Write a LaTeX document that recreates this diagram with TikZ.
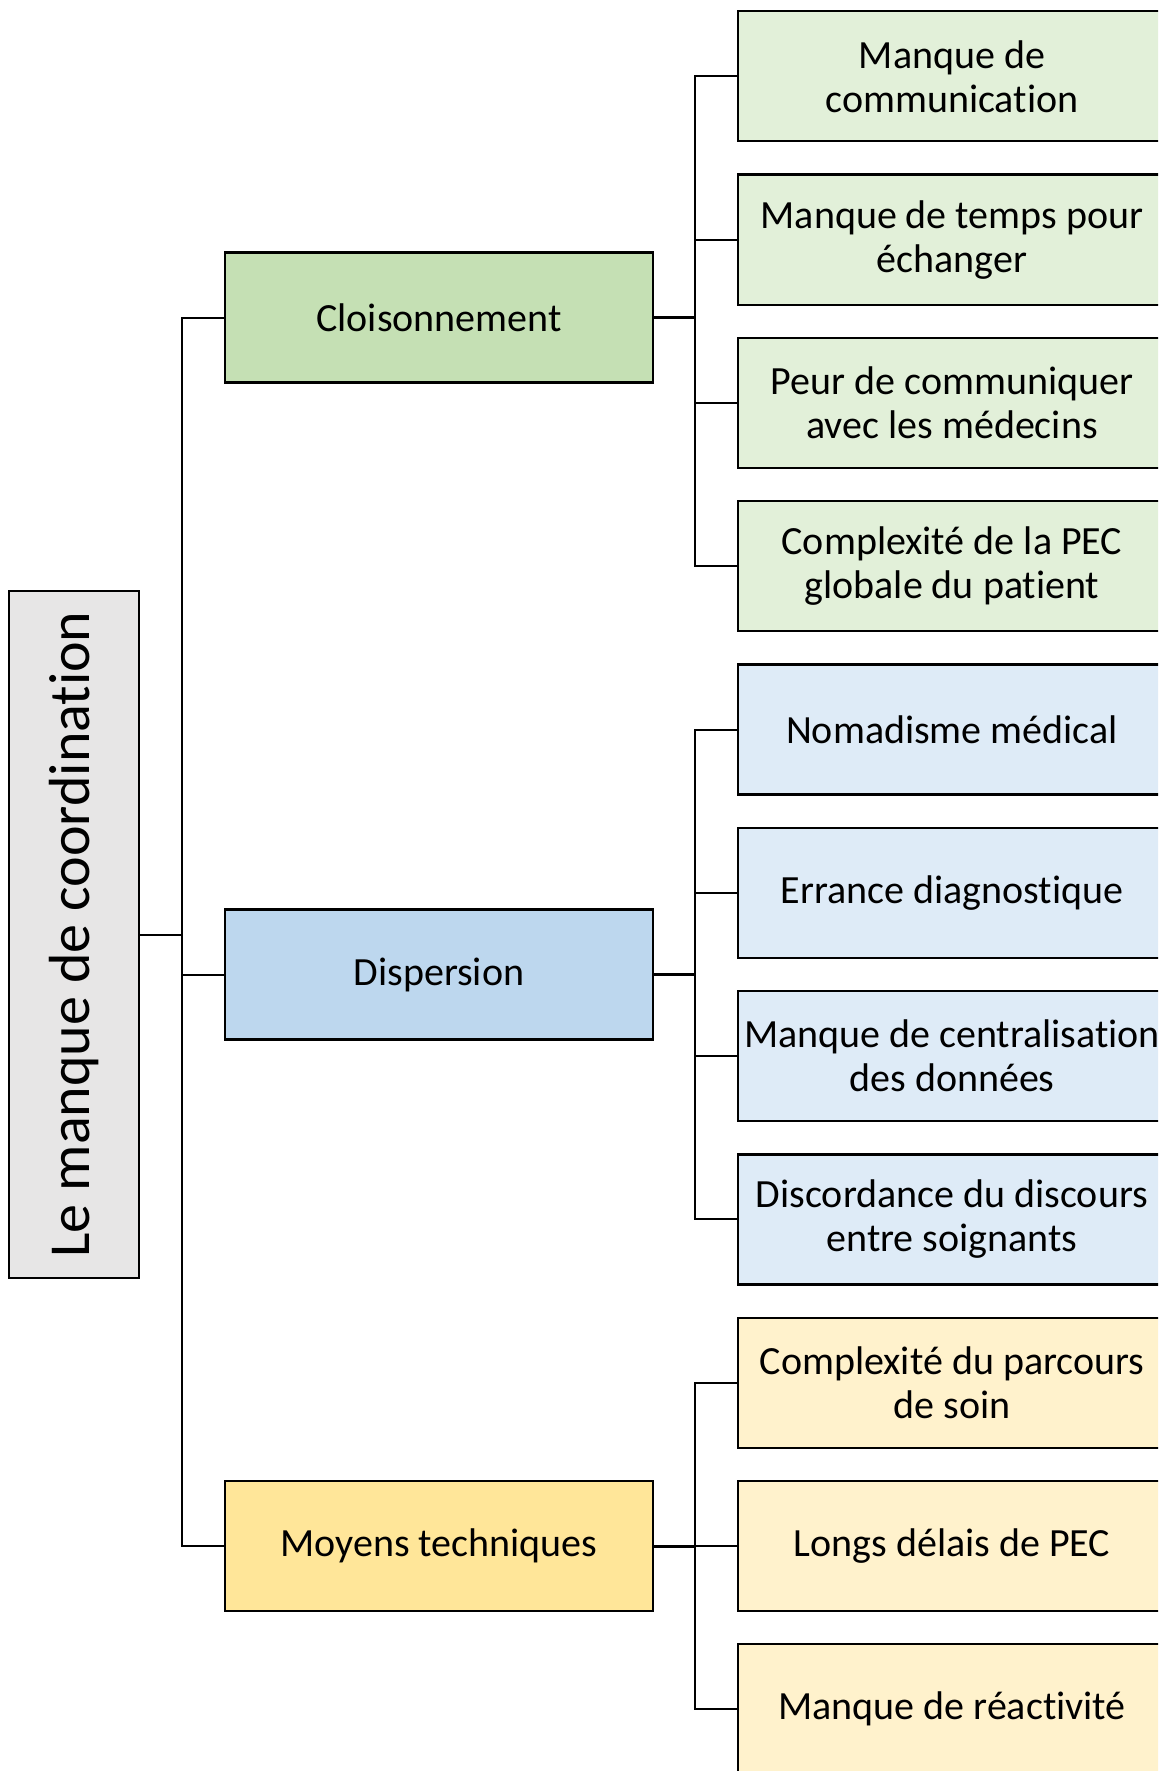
\documentclass[tikz,border=0pt]{standalone}
\usepackage{fontspec}
\setmainfont{Carlito}[Ligatures=NoCommon]
\usepackage{graphicx}
\definecolor{rootfill}{HTML}{E7E6E6}
\definecolor{gmid}{HTML}{C5E0B4}
\definecolor{gleaf}{HTML}{E2F0D9}
\definecolor{bmid}{HTML}{BDD7EE}
\definecolor{bleaf}{HTML}{DEEBF7}
\definecolor{ymid}{HTML}{FFE699}
\definecolor{yleaf}{HTML}{FFF2CC}
\begin{document}
\begin{tikzpicture}[x=0.5pt,y=-0.5pt,
  box/.style={draw=black,line width=1.1pt,inner sep=0pt,minimum width=214pt,minimum height=65pt,align=center,font=\fontsize{20}{22}\selectfont},
  rootbox/.style={draw=black,line width=1.1pt,inner sep=0pt,minimum width=65pt,minimum height=343.5pt,fill=rootfill,font=\fontsize{29}{33}\selectfont},
  conn/.style={line width=1pt},
  hconn/.style={line width=1.5pt}]
\clip (0,0) rectangle (1158,1771);
\fill[white] (0,0) rectangle (1158,1771);
% root
\node[rootbox] (root) at (74,934.5) {\rotatebox{90}{Le manque de coordination}};
% middle
\node[box,fill=gmid] (c1) at (439,317.5) {Cloisonnement};
\node[box,fill=bmid] (c2) at (439,974.5) {Dispersion};
\node[box,fill=ymid] (c3) at (439,1546) {Moyens techniques};
% leaves
\node[box,fill=gleaf] (l1) at (952,76.3) {Manque de\\communication};
\node[box,fill=gleaf] (l2) at (952,239.6) {Manque de temps pour\\échanger};
\node[box,fill=gleaf] (l3) at (952,402.9) {Peur de communiquer\\avec les médecins};
\node[box,fill=gleaf] (l4) at (952,566.2) {Complexité de la PEC\\globale du patient};
\node[box,fill=bleaf] (l5) at (952,729.5) {Nomadisme médical};
\node[box,fill=bleaf] (l6) at (952,892.8) {Errance diagnostique};
\node[box,fill=bleaf] (l7) at (952,1056.1) {Manque de centralisation\\des données};
\node[box,fill=bleaf] (l8) at (952,1219.4) {Discordance du discours\\entre soignants};
\node[box,fill=yleaf] (l9) at (952,1382.7) {Complexité du parcours\\de soin};
\node[box,fill=yleaf] (l10) at (952,1546) {Longs délais de PEC};
\node[box,fill=yleaf] (l11) at (952,1709.3) {Manque de réactivité};
% trunks
\coordinate (tk) at (182,0);
\coordinate (tk2) at (695,0);
\draw[conn] (root.east) -- (root.east -| tk);
\draw[conn] (c1.west) -- (c1.west -| tk) -- (c3.west -| tk) -- (c3.west);
\draw[conn] (c2.west) -- (c2.west -| tk);
% group 1
\draw[hconn] (c1.east) -- (c1.east -| tk2);
\draw[conn] (l1.west) -- (l1.west -| tk2) -- (l4.west -| tk2) -- (l4.west);
\draw[conn] (l2.west) -- (l2.west -| tk2);
\draw[conn] (l3.west) -- (l3.west -| tk2);
% group 2
\draw[hconn] (c2.east) -- (c2.east -| tk2);
\draw[conn] (l5.west) -- (l5.west -| tk2) -- (l8.west -| tk2) -- (l8.west);
\draw[conn] (l6.west) -- (l6.west -| tk2);
\draw[conn] (l7.west) -- (l7.west -| tk2);
% group 3
\draw[hconn] (c3.east) -- (c3.east -| tk2);
\draw[conn] (l9.west) -- (l9.west -| tk2) -- (l11.west -| tk2) -- (l11.west);
\draw[conn] (l10.west) -- (l10.west -| tk2);
\end{tikzpicture}
\end{document}
